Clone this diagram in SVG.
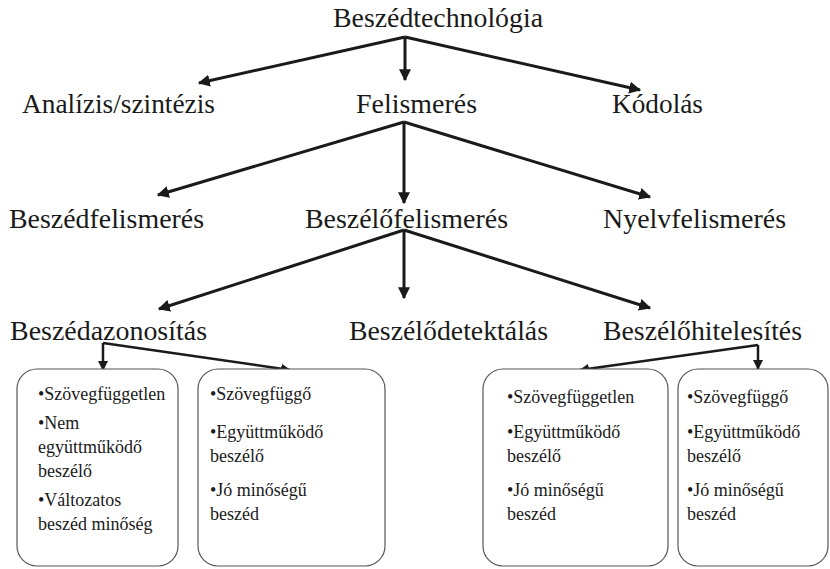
<svg xmlns="http://www.w3.org/2000/svg" width="830" height="569" viewBox="0 0 830 569">
<style>
.t{font-size:27px;fill:#1a1a1a}
.b{font-size:18px;fill:#1a1a1a}
.c{stroke:#1a1a1a;stroke-width:3;fill:none;marker-end:url(#ah)}
.c2{stroke:#1a1a1a;stroke-width:2.5;fill:none;marker-end:url(#ah)}
.box{fill:#fff;stroke:#555;stroke-width:1.2}
</style>
<defs>
<marker id="ah" viewBox="0 0 10 10" refX="9" refY="5" markerWidth="4" markerHeight="4" markerUnits="strokeWidth" orient="auto">
<path d="M0,0 L10,5 L0,10 z" fill="#1a1a1a"/>
</marker>
</defs>
<rect width="830" height="569" fill="#fff"/>
<g id="connectors">
<path class="c" d="M405,37 L199,83"/>
<path class="c" d="M405,37 L405,80"/>
<path class="c" d="M405,37 L640,90"/>
<path class="c" d="M404,122 L158,195"/>
<path class="c" d="M404,122 L404,203"/>
<path class="c" d="M404,122 L650,197"/>
<path class="c" d="M404,230 L159,309"/>
<path class="c" d="M404,230 L404,298"/>
<path class="c" d="M404,230 L650,308"/>
<path class="c2" d="M103,343 L103,370"/>
<path class="c2" d="M103,343 L290,370"/>
<path class="c2" d="M758,345 L758,369"/>
<path class="c2" d="M758,345 L580,370"/>
</g>
<g font-family="Liberation Serif, DejaVu Serif, serif">
<g id="n-beszedtechnologia"><text class="t" x="333" y="27" textLength="210" lengthAdjust="spacingAndGlyphs">Beszédtechnológia</text></g>
<g id="n-analizis"><text class="t" x="22" y="113" textLength="193" lengthAdjust="spacingAndGlyphs">Analízis/szintézis</text></g>
<g id="n-felismeres"><text class="t" x="356" y="113" textLength="121" lengthAdjust="spacingAndGlyphs">Felismerés</text></g>
<g id="n-kodolas"><text class="t" x="612" y="113" textLength="91" lengthAdjust="spacingAndGlyphs">Kódolás</text></g>
<g id="n-beszedfelismeres"><text class="t" x="9" y="228" textLength="195" lengthAdjust="spacingAndGlyphs">Beszédfelismerés</text></g>
<g id="n-beszelofelismeres"><text class="t" x="305" y="228" textLength="203" lengthAdjust="spacingAndGlyphs">Beszélőfelismerés</text></g>
<g id="n-nyelvfelismeres"><text class="t" x="603" y="228" textLength="183" lengthAdjust="spacingAndGlyphs">Nyelvfelismerés</text></g>
<g id="n-beszedazonositas"><text class="t" x="10" y="340" textLength="197" lengthAdjust="spacingAndGlyphs">Beszédazonosítás</text></g>
<g id="n-beszelodetektalas"><text class="t" x="349" y="340" textLength="199" lengthAdjust="spacingAndGlyphs">Beszélődetektálás</text></g>
<g id="n-beszelohitelesites"><text class="t" x="603" y="340" textLength="199" lengthAdjust="spacingAndGlyphs">Beszélőhitelesítés</text></g>
<g id="box1">
<rect class="box" x="17" y="369" width="161" height="197" rx="20"/>
<text class="b" x="38" y="400">•Szövegfüggetlen</text>
<text class="b" x="38" y="429">•Nem</text>
<text class="b" x="38" y="453">együttműködő</text>
<text class="b" x="38" y="477">beszélő</text>
<text class="b" x="38" y="506">•Változatos</text>
<text class="b" x="38" y="530">beszéd minőség</text>
</g>
<g id="box2">
<rect class="box" x="198" y="369" width="187" height="197" rx="20"/>
<text class="b" x="210" y="400">•Szövegfüggő</text>
<text class="b" x="210" y="438">•Együttműködő</text>
<text class="b" x="210" y="462">beszélő</text>
<text class="b" x="210" y="496">•Jó minőségű</text>
<text class="b" x="210" y="520">beszéd</text>
</g>
<g id="box3">
<rect class="box" x="483" y="369" width="185" height="197" rx="20"/>
<text class="b" x="507" y="403">•Szövegfüggetlen</text>
<text class="b" x="507" y="438">•Együttműködő</text>
<text class="b" x="507" y="462">beszélő</text>
<text class="b" x="507" y="496">•Jó minőségű</text>
<text class="b" x="507" y="520">beszéd</text>
</g>
<g id="box4">
<rect class="box" x="678" y="369" width="150" height="197" rx="20"/>
<text class="b" x="687" y="403">•Szövegfüggő</text>
<text class="b" x="687" y="438">•Együttműködő</text>
<text class="b" x="687" y="462">beszélő</text>
<text class="b" x="687" y="496">•Jó minőségű</text>
<text class="b" x="687" y="520">beszéd</text>
</g>
</g>
</svg>
